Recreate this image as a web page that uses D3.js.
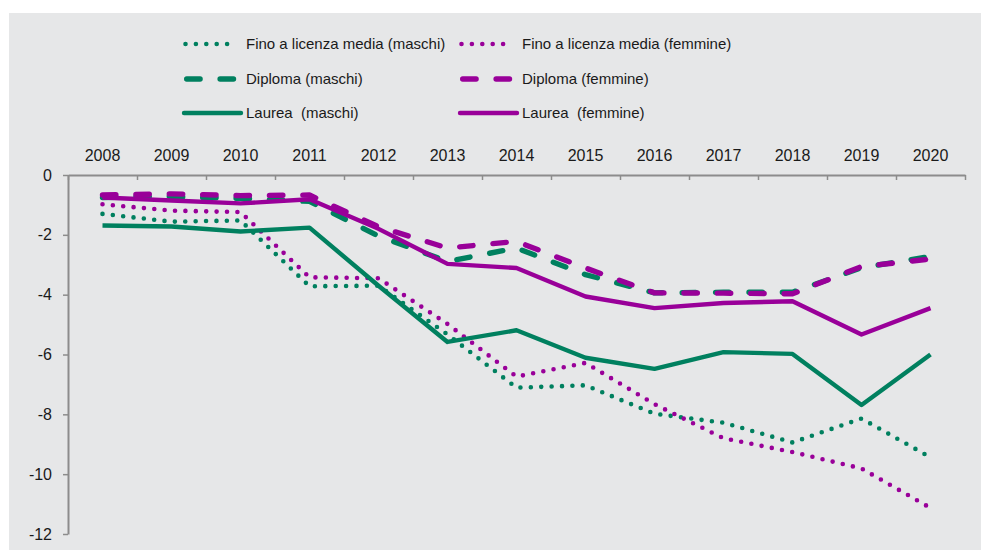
<!DOCTYPE html>
<html>
<head>
<meta charset="utf-8">
<script src="https://cdn.jsdelivr.net/npm/d3@7/dist/d3.min.js"></script>
<style>
  html, body { margin: 0; padding: 0; background: #ffffff; }
  svg { display: block; font-family: "Liberation Sans", Arial, sans-serif; }
</style>
</head>
<body>
<svg id="chart" width="981" height="550"></svg>
<script>
// Years on the (top) category axis
const years = ["2008","2009","2010","2011","2012","2013","2014","2015","2016","2017","2018","2019","2020"];

// Y-axis tick values
const yTicks = [0, -2, -4, -6, -8, -10, -12];

// Series values, one per year
const finoMaschi   = [-1.30, -1.56, -1.52, -3.72, -3.70, -5.33, -7.11, -7.03, -7.98, -8.28, -8.94, -8.14, -9.44];
const finoFemmine  = [-0.98, -1.19, -1.24, -3.42, -3.45, -4.98, -6.74, -6.28, -7.66, -8.80, -9.26, -9.81, -11.13];
const diplMaschi   = [-0.75, -0.72, -0.78, -0.88, -2.04, -2.89, -2.44, -3.33, -3.94, -3.92, -3.92, -3.10, -2.72];
const diplFemmine  = [-0.67, -0.63, -0.69, -0.67, -1.73, -2.44, -2.22, -3.11, -3.94, -3.95, -3.97, -3.06, -2.81];
const laurMaschi   = [-1.69, -1.72, -1.89, -1.76, -3.70, -5.58, -5.19, -6.11, -6.48, -5.92, -5.98, -7.69, -6.00];
const laurFemmine  = [-0.75, -0.85, -0.95, -0.81, -1.80, -2.97, -3.11, -4.06, -4.45, -4.28, -4.22, -5.33, -4.45];

const seriesLabels = [
  "Fino a licenza media (maschi)", "Fino a licenza media (femmine)",
  "Diploma (maschi)", "Diploma (femmine)",
  "Laurea  (maschi)", "Laurea  (femmine)"
];

const GREEN = "#00805f";
const PURPLE = "#990099";

const styles = {
  dotted: { width: 4.6, dash: "0,10.4", cap: "round" },
  dashed: { width: 5.4, dash: "13.4,20", cap: "round" },
  solid:  { width: 4.4, dash: null, cap: "butt" }
};

const series = [
  { name: seriesLabels[0], values: finoMaschi,  color: GREEN,  style: "dotted" },
  { name: seriesLabels[1], values: finoFemmine, color: PURPLE, style: "dotted" },
  { name: seriesLabels[2], values: diplMaschi,  color: GREEN,  style: "dashed" },
  { name: seriesLabels[3], values: diplFemmine, color: PURPLE, style: "dashed" },
  { name: seriesLabels[4], values: laurMaschi,  color: GREEN,  style: "solid" },
  { name: seriesLabels[5], values: laurFemmine, color: PURPLE, style: "solid" }
];

const svg = d3.select("#chart");

// panel background
svg.append("rect")
  .attr("x", 9).attr("y", 13)
  .attr("width", 981 - 9).attr("height", 550 - 13)
  .attr("fill", "#e6e7e8");

const plot = { left: 68, right: 965, top: 175, bottom: 534 };

const x = d3.scaleBand().domain(years).range([plot.left, plot.right]).padding(0);
const xEdges = d3.scaleLinear().domain([0, years.length]).range([plot.left, plot.right]);
const y = d3.scaleLinear().domain([-12, 0]).range([plot.bottom, plot.top]);

const axisColor = "#8c8c8c";

// Category labels above the zero line
const gx = svg.append("g").attr("transform", `translate(0,${plot.top})`)
  .call(d3.axisTop(x).tickSize(0).tickPadding(14));
gx.select(".domain").remove();
gx.selectAll("text").attr("font-size", 16).attr("fill", "#1a1a1a")
  .attr("font-family", "'Liberation Sans', Arial, sans-serif");

// Tick marks between categories, pointing down into the plot
const gxTicks = svg.append("g").attr("transform", `translate(0,${plot.top})`)
  .call(d3.axisTop(xEdges).tickValues(d3.range(0, years.length + 1)).tickSize(-5).tickSizeOuter(0).tickFormat(""));
gxTicks.select(".domain").attr("stroke", axisColor).attr("stroke-width", 2);
gxTicks.selectAll(".tick line").attr("stroke", axisColor).attr("stroke-width", 1.5);

// Value axis
const gy = svg.append("g").attr("transform", `translate(${plot.left},0)`)
  .call(d3.axisLeft(y).tickValues(yTicks).tickSize(5).tickSizeOuter(0).tickPadding(11)
    .tickFormat(d => d3.format("d")(d).replace("−", "-")));
gy.select(".domain").attr("stroke", axisColor).attr("stroke-width", 2);
gy.selectAll(".tick line").attr("stroke", axisColor).attr("stroke-width", 1.5);
gy.selectAll("text").attr("font-size", 16).attr("fill", "#1a1a1a")
  .attr("font-family", "'Liberation Sans', Arial, sans-serif");

// Lines
const line = d3.line()
  .x((d, i) => x(years[i]) + x.bandwidth() / 2)
  .y(d => y(d));

const gLines = svg.append("g");
series.forEach(s => {
  const st = styles[s.style];
  gLines.append("path")
    .datum(s.values)
    .attr("d", line)
    .attr("fill", "none")
    .attr("stroke", s.color)
    .attr("stroke-width", st.width)
    .attr("stroke-linecap", st.cap)
    .attr("stroke-linejoin", "round")
    .attr("stroke-dasharray", st.dash);
});

// Legend: two columns, three rows
const legendCols = [184, 460];
const legendRows = [44, 79, 113];
const legend = svg.append("g");
series.forEach((s, i) => {
  const st = styles[s.style];
  const cx = legendCols[i % 2];
  const cy = legendRows[Math.floor(i / 2)];
  const len = s.style === "solid" ? 57 : (s.style === "dashed" ? 52 : 52);
  const offset = s.style === "dotted" ? 1.5 : (s.style === "dashed" ? 2.7 : 0);
  legend.append("line")
    .attr("x1", cx + offset).attr("x2", cx + len)
    .attr("y1", cy).attr("y2", cy)
    .attr("stroke", s.color)
    .attr("stroke-width", st.width)
    .attr("stroke-linecap", st.cap === "butt" ? "round" : st.cap)
    .attr("stroke-dasharray", st.dash);
  legend.append("text")
    .attr("x", cx + 62).attr("y", cy)
    .attr("dy", "0.36em")
    .attr("font-size", 15)
    .attr("fill", "#1a1a1a")
    .style("white-space", "pre")
    .attr("xml:space", "preserve")
    .text(s.name);
});
</script>
</body>
</html>
